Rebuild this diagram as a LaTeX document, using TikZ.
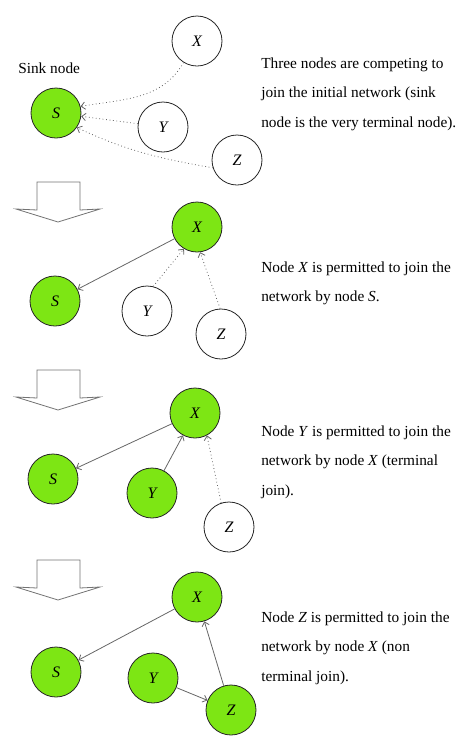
\documentclass[tikz,border=0pt]{standalone}
\usepackage{fontspec}
\setmainfont{Liberation Serif}
\usetikzlibrary{arrows.meta, positioning}
\definecolor{nodegreen}{RGB}{125,230,20}

\begin{document}
\begin{tikzpicture}[
    x=0.75pt, y=0.75pt,
    >={Straight Barb[length=3pt,width=5.5pt]}, % open arrow tip
    % sensor nodes
    member/.style={circle, draw=black!85, line width=0.6pt, minimum size=37.5pt, inner sep=0pt, font=\fontsize{12}{14}\selectfont\itshape},
    joined/.style={member, fill=nodegreen},
    waiting/.style={member, fill=white},
    % connections
    link/.style={->, draw=black!60, line width=0.6pt},
    request/.style={link, dotted},
    % hollow arrow between stages
    stepdown/.style={draw=black!55, line width=0.6pt, fill=white, line join=miter},
    % captions sit on the baseline of their last line
    caption/.style={anchor=base west, inner sep=0pt, align=left, font=\fontsize{11.5}{22.1}\selectfont}
]
\useasboundingbox (0,0) rectangle (474,-751);

% 1. initial network
\node [anchor=base west, inner sep=0pt, font=\fontsize{11.5}{14}\selectfont] (sinklabel) at (18,-73) {Sink node};
\node [joined] (s1) at (56,-113) {S};
\node [waiting] (x1) at (197,-41) {X};
\node [waiting] (y1) at (163,-127) {Y};
\node [waiting] (z1) at (237,-160) {Z};
\node [caption] (text1) at (261,-127) {Three nodes are competing to\\join the initial network (sink\\node is the very terminal node).};

\draw [request] (x1.238) to[out=240, in=10] (s1.15);
\draw [request] (y1) -- (s1);
\draw [request] (z1.198) to[out=170, in=-25] (s1.-35);

\draw [stepdown] (37,-182) -- (80,-182) -- (80,-210) -- (100,-209) -- (58,-222) -- (16,-209) -- (37,-210) -- cycle;

% 2. X joins through S
\node [joined] (s2) at (55,-301) {S};
\node [joined] (x2) at (197,-227) {X};
\node [waiting] (y2) at (147,-311) {Y};
\node [waiting] (z2) at (221,-334) {Z};
\node [caption] (text2) at (261,-301.5) {Node \textit{X} is permitted to join the\\network by node \textit{S}.};

\draw [link] (x2) -- (s2);
\draw [request] (y2.76) -- (x2.239);
\draw [request] (z2.92) -- (x2.-83);

\draw [stepdown] (37,-370) -- (80,-370) -- (80,-398) -- (100,-397) -- (58,-410) -- (16,-397) -- (37,-398) -- cycle;

% 3. Y joins through X
\node [joined] (s3) at (53,-479) {S};
\node [joined] (x3) at (195,-413) {X};
\node [joined] (y3) at (152,-493) {Y};
\node [waiting] (z3) at (229,-527) {Z};
\node [caption] (text3) at (261,-495) {Node \textit{Y} is permitted to join the\\network by node \textit{X} (terminal\\join).};

\draw [link] (x3) -- (s3);
\draw [link] (y3) -- (x3);
\draw [request] (z3.108) -- (x3.-62);

\draw [stepdown] (37,-560) -- (80,-560) -- (80,-588) -- (100,-587) -- (58,-600) -- (16,-587) -- (37,-588) -- cycle;

% 4. Z joins through X
\node [joined] (s4) at (56,-672) {S};
\node [joined] (x4) at (197,-597) {X};
\node [joined] (y4) at (153,-678) {Y};
\node [joined] (z4) at (231,-710) {Z};
\node [caption] (text4) at (261,-681) {Node \textit{Z} is permitted to join the\\network by node \textit{X} (non\\terminal join).};

\draw [link] (x4) -- (s4);
\draw [link] (y4) -- (z4);
\draw [link] (z4) -- (x4);

\end{tikzpicture}
\end{document}
